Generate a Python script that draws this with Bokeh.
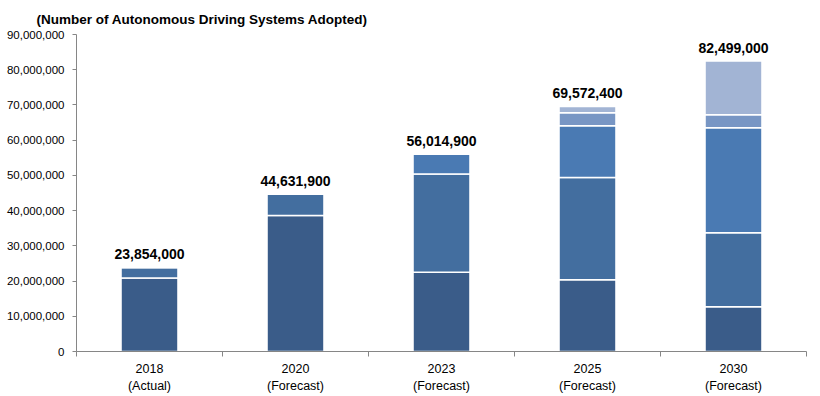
from bokeh.plotting import figure
from bokeh.models import ColumnDataSource, FixedTicker, NumeralTickFormatter, Range1d, Title
from bokeh.core.properties import value
from bokeh.embed import file_html
from bokeh.resources import INLINE

categories = ["2018\n(Actual)", "2020\n(Forecast)", "2023\n(Forecast)", "2025\n(Forecast)", "2030\n(Forecast)"]
totals = [23854000, 44631900, 56014900, 69572400, 82499000]
seg1 = [20900000, 38600000, 22500000, 20400000, 12700000]
seg2 = [2954000, 6031900, 27900000, 29000000, 21000000]
seg3 = [0, 0, 5614900, 14700000, 29800000]
seg4 = [0, 0, 0, 3700000, 3700000]
seg5 = [0, 0, 0, 1772400, 15299000]
total_labels = ["23,854,000", "44,631,900", "56,014,900", "69,572,400", "82,499,000"]

colors = ["#3a5c89", "#436e9f", "#4a7ab3", "#7896c4", "#a2b4d4"]
keys = ["s1", "s2", "s3", "s4", "s5"]

xs = [i + 0.5 for i in range(len(categories))]
src = ColumnDataSource(dict(x=xs, s1=seg1, s2=seg2, s3=seg3, s4=seg4, s5=seg5,
                            total=totals, lab=total_labels))

FONT = "Liberation Sans"

p = figure(width=820, height=396, output_backend="svg", toolbar_location=None,
           x_range=Range1d(0, 5), y_range=Range1d(0, 90000000),
           min_border_left=76, min_border_right=14, min_border_top=34, min_border_bottom=45)
p.title = Title(text="(Number of Autonomous Driving Systems Adopted)", align="left",
                offset=-40, text_font=FONT, text_font_size="13.5px", text_font_style="bold",
                text_color="#000000", standoff=15)

p.vbar_stack(keys, x="x", width=0.39, color=colors, line_color="white", line_width=1.5, source=src)

p.text(x="x", y="total", text="lab", source=src, text_align="center", text_baseline="bottom",
       y_offset=-8, text_font=value(FONT), text_font_size="14px", text_font_style="bold",
       text_color="#000000")

p.xgrid.visible = False
p.ygrid.visible = False
p.outline_line_color = None

xa = p.xaxis[0]
xa.ticker = FixedTicker(ticks=xs, minor_ticks=[0, 1, 2, 3, 4, 5])
xa.major_label_overrides = {x: c for x, c in zip(xs, categories)}
xa.major_tick_out = 0
xa.major_tick_in = 0
xa.minor_tick_out = 5
xa.minor_tick_in = 0
xa.minor_tick_line_color = "#868686"
xa.axis_line_color = "#868686"
xa.major_label_text_font = FONT
xa.major_label_text_font_size = "12.5px"
xa.major_label_text_color = "#000000"
xa.major_label_text_line_height = 1.28
xa.major_label_standoff = 5

ya = p.yaxis[0]
ya.ticker = FixedTicker(ticks=[i * 10000000 for i in range(10)], minor_ticks=[])
ya.formatter = NumeralTickFormatter(format="0,0")
ya.major_tick_out = 4
ya.major_tick_in = 0
ya.minor_tick_out = 0
ya.minor_tick_in = 0
ya.major_tick_line_color = "#868686"
ya.axis_line_color = "#868686"
ya.major_label_text_font = FONT
ya.major_label_text_font_size = "11.5px"
ya.major_label_text_color = "#000000"
ya.major_label_standoff = 8

open("out.html", "w").write(file_html(p, INLINE))
